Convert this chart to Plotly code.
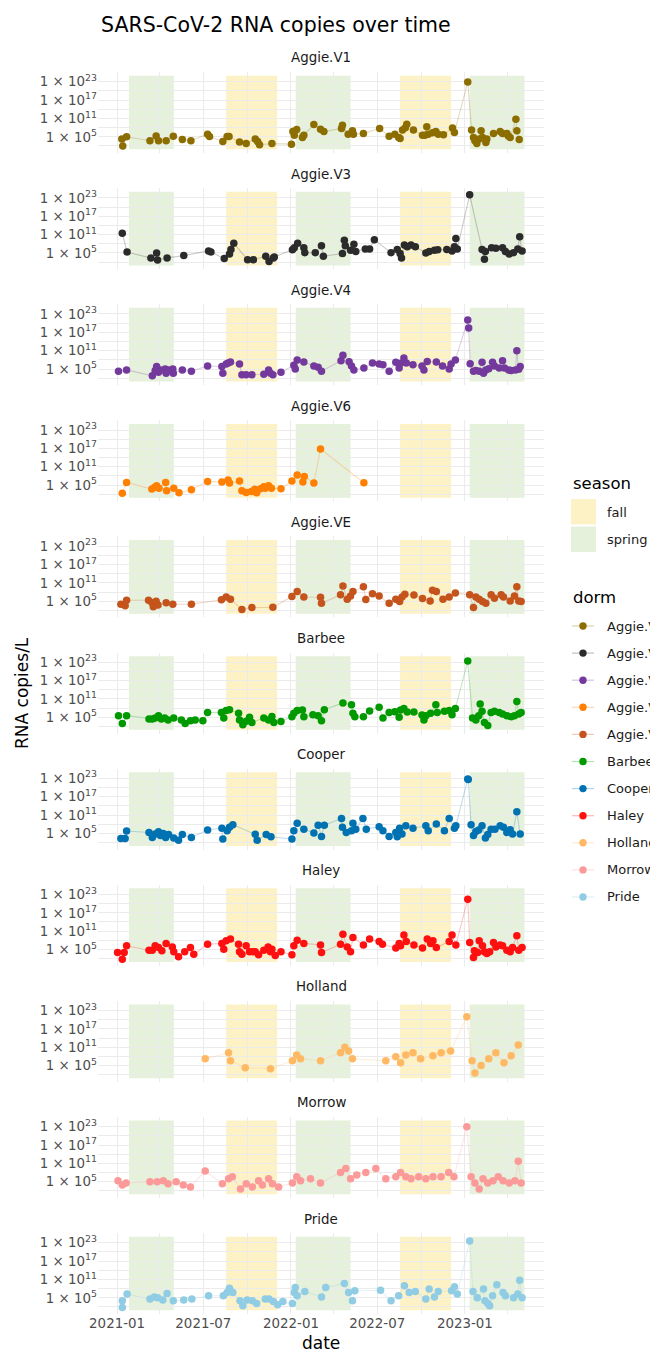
import pandas as pd
import plotly.graph_objects as go

# ---------------- data ----------------
BASE_DATE = "2021-01-01"   # sample day numbers below are days since this date

dorm_names = ["Aggie.V1", "Aggie.V3", "Aggie.V4", "Aggie.V6", "Aggie.VE", "Barbee",
              "Cooper", "Haley", "Holland", "Morrow", "Pride"]
dorm_colors = ["#8c6d00", "#2b2b2b", "#74399c", "#ff7f00", "#c4541c", "#009a00",
               "#0072b2", "#ff1010", "#ffb964", "#fb9a99", "#90cce4"]

aggie_v1_day = [10, 12, 20, 69, 82, 87, 103, 118, 137, 155, 190, 194, 222, 231, 235, 257, 271, 290, 295, 299,
                325, 366, 369, 372, 377, 389, 392, 413, 427, 434, 471, 473, 485, 494, 496, 517, 551, 571, 583, 591,
                594, 599, 605, 608, 622, 641, 646, 650, 653, 662, 669, 674, 685, 704, 708, 736, 744, 748, 751, 755,
                760, 764, 767, 774, 776, 790, 804, 809, 818, 821, 825, 837, 839, 844]
aggie_v1_val = [2e4, 1e2, 1e5, 5e3, 2e5, 5e3, 5e3, 1.6e5, 1.3e4, 5e3, 7e5, 1.2e5, 3e3, 1.2e5, 1.2e5, 2e3, 6e2, 2e4, 3e3, 2.5e2,
                6e2, 4e2, 5e6, 3.5e5, 2.5e7, 6e4, 3.5e5, 1e9, 3e7, 5e6, 5e7, 6e8, 7e5, 1e7, 7e5, 1.3e6, 5e7, 1.6e5, 7e5, 6e4,
                3e4, 1.6e7, 1e8, 1.4e9, 1.6e7, 3.5e5, 3.5e5, 2e8, 7e5, 2e6, 5e6, 7e5, 4.5e5, 7e7, 2.5e6, 8e22, 1.6e7, 6e4, 5e3, 6e2,
                2e4, 1e7, 6e4, 1.4e3, 2e4, 1.3e6, 5e6, 1.3e6, 1.3e6, 2e5, 6e4, 6e10, 1e7, 1.3e4]

aggie_v3_day = [11, 21, 71, 83, 85, 105, 140, 192, 197, 225, 236, 239, 245, 274, 286, 312, 319, 328, 330, 368,
                372, 379, 392, 394, 416, 429, 433, 473, 477, 479, 490, 497, 501, 521, 530, 540, 575, 588, 594, 597,
                603, 609, 617, 626, 648, 655, 666, 673, 692, 703, 708, 711, 714, 740, 766, 771, 773, 786, 795, 809,
                815, 823, 832, 841, 845, 850]
aggie_v3_val = [2.5e11, 2e5, 2e3, 1e5, 5e2, 2.3e3, 1.3e4, 4.5e5, 2e5, 1.4e3, 4e4, 1.3e6, 1.4e8, 6e2, 6e2, 8e3, 1.5e2, 2e3, 5e3, 1e6,
                5e6, 1.4e8, 5e6, 1.2e5, 1.2e5, 2e7, 8e3, 6e4, 1.4e9, 2e7, 7e5, 7e7, 3e5, 2e6, 2e6, 2e9, 1.2e5, 1.3e6, 6e4, 2e3,
                4e7, 1e7, 4e7, 1e7, 1e5, 3e5, 7e5, 1e6, 1.3e6, 4.5e5, 1e7, 5e9, 2e6, 1e24, 1.3e6, 8e2, 3e5, 5e6, 3.5e6, 5e6,
                3e5, 4e4, 1.2e5, 2e6, 2e10, 4.5e5]

aggie_v4_day = [3, 20, 74, 80, 83, 87, 91, 101, 103, 108, 117, 118, 137, 156, 190, 220, 222, 229, 233, 238,
                257, 262, 271, 283, 308, 318, 322, 327, 344, 371, 374, 378, 392, 413, 422, 429, 470, 474, 487, 492,
                497, 518, 536, 550, 558, 571, 585, 592, 595, 602, 607, 621, 640, 644, 651, 670, 683, 697, 701, 710,
                736, 738, 741, 748, 753, 760, 766, 769, 774, 780, 788, 792, 802, 809, 813, 822, 827, 836, 839, 843,
                846]
aggie_v4_val = [2e4, 5e4, 6e2, 3e4, 6e5, 8e3, 5e4, 1e5, 4e3, 5e4, 1e5, 4e3, 5e4, 2e4, 1e6, 7e5, 4e3, 4e6, 1e7, 2e7,
                4e6, 1.4e3, 1.4e3, 1.4e3, 2e3, 5e4, 4e3, 1.4e3, 8e3, 1.6e6, 1e5, 9e7, 2e7, 1e6, 3.5e5, 2e4, 5e7, 3e9, 2.5e7, 1e6,
                5e4, 2e5, 1e7, 4e6, 2.5e6, 2e4, 1.6e7, 2e5, 7e6, 4e8, 1e7, 2.5e6, 1e6, 5e4, 3e7, 2e7, 1e6, 1e5, 4e6, 9e7,
                1e21, 2.5e18, 5e6, 2e4, 3e4, 2e4, 1.6e7, 4e3, 5e4, 1.3e5, 1.6e7, 1e6, 2e5, 5e7, 2e5, 5e4, 3e4, 5e4, 1e11, 8e4,
                7e5]

aggie_v6_day = [11, 20, 73, 79, 83, 88, 102, 104, 119, 130, 156, 190, 220, 233, 236, 257, 262, 271, 282, 289,
                293, 301, 308, 311, 318, 324, 344, 367, 378, 390, 393, 413, 427, 518]
aggie_v6_val = [2e2, 7e5, 5e3, 2e4, 6e4, 1e4, 7e5, 1.4e3, 1e4, 3e2, 3e3, 1.6e6, 1e6, 5e6, 4.5e5, 2e6, 1.4e3, 4e2, 8e2, 4e3,
                3e2, 6e3, 3e4, 1e4, 6e4, 1e4, 6e3, 2e6, 2e8, 1e6, 7e7, 4.5e5, 6e16, 6e5]

aggie_ve_day = [8, 17, 20, 66, 73, 76, 82, 86, 103, 117, 156, 219, 229, 238, 262, 283, 327, 367, 378, 392,
                427, 429, 469, 474, 483, 490, 495, 517, 522, 536, 550, 571, 585, 593, 598, 604, 623, 641, 657, 662,
                670, 684, 697, 710, 740, 748, 753, 760, 767, 774, 785, 792, 806, 811, 825, 834, 839, 843, 848]
aggie_ve_val = [1e4, 3e3, 2e5, 2e5, 4e4, 1.4e3, 1e5, 6e3, 3e4, 1e4, 1e4, 3e5, 2.5e6, 4.5e5, 2e2, 8e2, 1e3, 3.4e6, 1.4e8, 2.5e6,
                2e6, 2e4, 1.2e7, 1e10, 4.5e5, 5e6, 1.4e8, 5e9, 3.5e5, 3e7, 5e6, 2e4, 4.5e5, 8e4, 2.5e6, 2e7, 1e7, 7e5, 1.2e5, 4e8,
                1.4e8, 4.5e5, 2.5e6, 5e7, 1.2e7, 8e2, 2.5e6, 4.5e5, 8e4, 2e4, 1.2e7, 1e6, 1.2e7, 2.5e6, 1.2e5, 5e6, 5e9, 1.2e5, 8e4]

barbee_day = [3, 11, 20, 67, 74, 80, 87, 93, 100, 107, 119, 135, 143, 154, 164, 180, 190, 219, 224, 229,
              236, 255, 257, 264, 271, 278, 283, 308, 318, 325, 329, 344, 367, 371, 378, 389, 392, 411, 422, 429,
              435, 474, 492, 495, 499, 517, 530, 550, 558, 571, 583, 592, 595, 602, 609, 623, 640, 644, 648, 658,
              669, 672, 687, 697, 703, 710, 736, 746, 753, 759, 762, 766, 771, 778, 785, 792, 802, 809, 818, 827,
              834, 839, 843, 848]
barbee_val = [3.5e5, 1e3, 3.5e5, 3e4, 3e4, 6e4, 3.5e5, 3e4, 6e4, 1.3e4, 6e4, 1.3e4, 1e3, 8e3, 1.3e4, 8e3, 3.4e6, 4e6, 6e4, 1.6e7,
              3e7, 2e6, 1.3e4, 4e2, 5e3, 1e5, 2e3, 6e4, 1.3e4, 2e5, 2e3, 4e3, 1.6e5, 2e6, 1.6e7, 2.5e7, 1.6e5, 7e5, 3.5e5, 8e3,
              3e7, 5e9, 1.4e9, 2e6, 1.6e5, 1.6e5, 1.2e7, 2e8, 6e4, 4e6, 7e6, 1e5, 2.5e7, 7e7, 5e6, 5e6, 6e5, 1.3e4, 3.5e5, 2e6,
              1.4e9, 4e6, 1e7, 1.6e7, 7e5, 7e7, 2.5e23, 6e4, 1.3e4, 3.5e5, 2.3e9, 1e7, 2e3, 2e2, 4e6, 1e7, 4e6, 1.2e6, 3.5e5, 1.6e5,
              3.5e5, 1.6e10, 1.2e6, 4e6]

cooper_day = [8, 17, 20, 67, 74, 80, 87, 91, 97, 102, 108, 119, 129, 137, 156, 190, 220, 222, 231, 236,
              243, 290, 294, 313, 323, 367, 371, 378, 392, 413, 422, 429, 435, 471, 473, 481, 492, 495, 501, 516,
              523, 550, 558, 571, 585, 588, 593, 598, 606, 621, 648, 653, 670, 687, 697, 708, 711, 736, 737, 743,
              748, 753, 759, 766, 773, 778, 785, 793, 804, 811, 818, 825, 830, 839, 846]
cooper_val = [2e3, 2e3, 6e5, 2e5, 5e3, 6e4, 3.5e5, 2e4, 1e5, 5e3, 4e4, 3e3, 6e2, 4e4, 5e3, 1.3e6, 5e6, 1.4e3, 8e5, 1e7,
              7e7, 5e4, 6e2, 4e4, 8e3, 1.4e3, 8e5, 2e8, 2.5e6, 1.3e5, 5e7, 1e4, 5e7, 8e9, 1e7, 2e5, 8e5, 2e8, 2.5e6, 8e9,
              2.5e6, 1.6e7, 8e5, 1e4, 2e5, 8e3, 5e6, 6e4, 3e7, 5e6, 3e7, 8e5, 1.1e8, 8e5, 8e9, 5e6, 3e7, 6e22, 4e22, 7e7,
              2e4, 4e5, 1.3e6, 3e7, 3e3, 4e4, 2.5e6, 2.5e6, 3e7, 1e7, 2e5, 1.6e6, 6e4, 1.3e12, 6e4]

haley_day = [1, 11, 15, 20, 67, 74, 80, 87, 94, 103, 116, 119, 129, 142, 154, 161, 190, 220, 224, 229,
             238, 255, 257, 262, 271, 278, 285, 290, 297, 308, 317, 322, 325, 332, 344, 367, 371, 378, 392, 427,
             429, 469, 474, 483, 490, 495, 517, 530, 550, 557, 585, 592, 595, 602, 607, 623, 641, 651, 658, 663,
             670, 697, 703, 711, 736, 740, 748, 750, 757, 760, 767, 771, 776, 782, 790, 795, 804, 809, 818, 825,
             830, 839, 843, 850]
haley_val = [1e4, 7e1, 1e4, 1.6e6, 6e4, 6e4, 1.6e6, 4.5e5, 4e4, 1e7, 7e5, 2e4, 4e2, 2e4, 4.5e5, 3e3, 5e6, 1e7, 1.3e5, 7e7,
             2.5e8, 5e6, 2e4, 3e3, 1.6e6, 2e4, 2e4, 2e4, 2e3, 6e4, 7e5, 2e4, 1.3e5, 1e3, 2e4, 2e3, 1.6e6, 1e8, 1e7, 3e6,
             1e4, 5e6, 1e10, 7e5, 2e4, 8e8, 3e6, 2.5e8, 4e7, 5e6, 3e5, 1e7, 1.6e6, 6e9, 4e7, 3e6, 3e5, 2.5e8, 1e7, 7e7,
             4.5e5, 4e7, 6e9, 3e6, 3e21, 2e7, 2.5e2, 4e4, 1e4, 7e7, 1.6e6, 2e4, 5e3, 2e4, 2e7, 7e5, 3e6, 1.6e6, 6e4, 2e4,
             4.5e5, 3e9, 6e4, 4.5e5]

holland_day = [185, 234, 238, 269, 322, 368, 377, 385, 427, 469, 478, 486, 494, 564, 585, 595, 606, 621, 637, 663,
               680, 700, 734, 745, 751, 764, 780, 795, 812, 827, 842]
holland_val = [1.6e7, 1.6e9, 4e6, 2e4, 1e4, 4e6, 3e8, 1.6e7, 4e6, 1.6e9, 1e11, 6e9, 1.6e7, 4e6, 8e7, 8e5, 3e8, 1.6e9, 1.6e7, 1.6e8,
               1.6e9, 6e9, 1e21, 4e6, 4e2, 1e5, 1.6e7, 1.6e9, 8e5, 1.6e8, 6e11]

morrow_day = [2, 11, 19, 69, 84, 97, 107, 124, 139, 154, 185, 221, 234, 242, 259, 271, 284, 297, 305, 318,
              326, 339, 368, 377, 385, 406, 427, 469, 480, 490, 503, 522, 543, 564, 585, 595, 606, 617, 633, 648,
              663, 680, 696, 707, 734, 743, 751, 760, 768, 778, 789, 800, 810, 823, 835, 842, 848]
morrow_val = [2e5, 8e3, 4e4, 1e5, 1e5, 2e5, 2e4, 1e5, 8e3, 2e3, 3e8, 2e4, 1e6, 4e6, 4e2, 2e4, 2e3, 2e5, 8e3, 1e6,
              2e4, 2e3, 4e4, 4e6, 2e5, 1e6, 4e4, 1e8, 2e9, 1e6, 1.6e7, 1e8, 2e9, 1e6, 4e6, 1e8, 4e6, 1e6, 4e6, 1e6,
              4e6, 4e6, 1e8, 4e6, 1e23, 4e6, 4e4, 4e2, 1e6, 4e4, 2e5, 4e6, 2e5, 4e4, 2e5, 5e11, 4e4]

pride_day = [11, 11, 21, 69, 78, 85, 96, 105, 118, 140, 157, 192, 223, 231, 236, 243, 258, 264, 273, 284,
             293, 311, 319, 328, 337, 348, 368, 372, 374, 378, 394, 429, 438, 477, 486, 494, 499, 553, 575, 591,
             603, 613, 626, 648, 655, 666, 674, 702, 708, 714, 740, 747, 756, 769, 772, 778, 782, 788, 797, 810,
             815, 832, 841, 845, 850]
pride_val = [1e4, 7e1, 1.6e6, 4e4, 2e5, 1e5, 2e4, 2.5e6, 1e4, 2e4, 4e4, 4.5e5, 4.5e5, 5e6, 1.4e8, 5e6, 1e4, 2.5e2, 2e4, 1e4,
             1.4e3, 4e4, 4e4, 6e3, 5e2, 6e3, 1.4e3, 5e6, 2.5e8, 4.5e5, 1.2e7, 2e5, 2.5e8, 5e9, 5e6, 1e4, 2e7, 3e7, 1e4, 4.5e5,
             8e8, 5e6, 1.2e7, 4e4, 7e7, 2e5, 1.2e7, 2e7, 4e8, 1.6e6, 4e23, 1.2e7, 1e5, 7e7, 1e4, 1.4e3, 2.5e2, 4.5e5, 2e9, 5e6,
             4.5e5, 1e5, 1.6e6, 6e10, 1e5]

season_labels = ["spring", "fall", "spring", "fall", "spring"]
season_start = ["2021-01-26", "2021-08-18", "2022-01-11", "2022-08-18", "2023-01-11"]
season_end = ["2021-04-30", "2021-12-03", "2022-05-06", "2022-12-03", "2023-05-06"]
season_legend = ["fall", "spring"]
season_fill = {"fall": "#fcf2c6", "spring": "#e5f1da"}

x_tick_vals = ["2021-01-01", "2021-07-01", "2022-01-01", "2022-07-01", "2023-01-01"]
x_tick_text = ["2021-01", "2021-07", "2022-01", "2022-07", "2023-01"]
x_minor_vals = ["2021-04-01", "2021-10-01", "2022-04-01", "2022-10-01", "2023-04-01"]
y_tick_vals = [1e5, 1e11, 1e17, 1e23]
y_tick_text = ["1 × 10<sup>5</sup>", "1 × 10<sup>11</sup>", "1 × 10<sup>17</sup>", "1 × 10<sup>23</sup>"]
y_minor_vals = [1e2, 1e8, 1e14, 1e20, 1e26]

panel_days = [aggie_v1_day, aggie_v3_day, aggie_v4_day, aggie_v6_day, aggie_ve_day, barbee_day,
              cooper_day, haley_day, holland_day, morrow_day, pride_day]
panel_vals = [aggie_v1_val, aggie_v3_val, aggie_v4_val, aggie_v6_val, aggie_ve_val, barbee_val,
              cooper_val, haley_val, holland_val, morrow_val, pride_val]

# ---------------- layout geometry (pixels) ----------------
W, H = 650, 1353
ML, MR, MT = 98, 106, 72
STEP, PANEL_H = 116.1, 81
N = len(dorm_names)
MB = H - (MT + STEP * (N - 1) + PANEL_H)
PW, PH = W - ML - MR, H - MT - MB
FONT = "DejaVu Sans"
GRID = "#ebebeb"


def px_x(p):
    return (p - ML) / PW


def px_y(p):
    return 1 - (p - MT) / PH


def rgba(hex_color, a):
    h = hex_color.lstrip("#")
    r, g, b = int(h[0:2], 16), int(h[2:4], 16), int(h[4:6], 16)
    return f"rgba({r},{g},{b},{a})"


base = pd.Timestamp(BASE_DATE)
fig = go.Figure()
layout = dict(
    width=W, height=H, margin=dict(l=ML, r=MR, t=MT, b=MB, pad=0),
    paper_bgcolor="white", plot_bgcolor="white", showlegend=False,
    font=dict(family=FONT, color="#1a1a1a"),
)
shapes, annotations = [], []

for i in range(N):
    k = "" if i == 0 else str(i + 1)
    top = MT + STEP * i
    dates = [base + pd.Timedelta(days=d) for d in panel_days[i]]
    fig.add_trace(go.Scatter(x=dates, y=panel_vals[i], mode="lines",
                             line=dict(color=rgba(dorm_colors[i], 0.24), width=1.1),
                             xaxis="x" + k, yaxis="y" + k, hoverinfo="skip"))
    fig.add_trace(go.Scatter(x=dates, y=panel_vals[i], mode="markers", name=dorm_names[i],
                             marker=dict(color=dorm_colors[i], size=7.5, line=dict(width=0)),
                             xaxis="x" + k, yaxis="y" + k))
    xa = dict(
        domain=[0, 1], anchor="y" + k, type="date", range=["2020-11-22", "2023-06-16"],
        tickvals=x_tick_vals, ticktext=x_tick_text, showticklabels=(i == N - 1),
        tickfont=dict(size=13.4, color="#4d4d4d", family=FONT), ticks="",
        showgrid=True, gridcolor=GRID, gridwidth=1.2, zeroline=False, showline=False,
        minor=dict(tickvals=x_minor_vals, showgrid=True, gridcolor=GRID, gridwidth=0.6),
    )
    if i > 0:
        xa["matches"] = "x"
    layout["xaxis" + k] = xa
    layout["yaxis" + k] = dict(
        domain=[px_y(top + PANEL_H), px_y(top)], anchor="x" + k, type="log", range=[-0.3, 26.2],
        tickvals=y_tick_vals, ticktext=y_tick_text, ticks="",
        tickfont=dict(size=13.4, color="#4d4d4d", family=FONT),
        showgrid=True, gridcolor=GRID, gridwidth=1.2, zeroline=False, showline=False,
        minor=dict(tickvals=y_minor_vals, showgrid=True, gridcolor=GRID, gridwidth=0.6),
    )
    for lab, s0, s1 in zip(season_labels, season_start, season_end):
        shapes.append(dict(type="rect", xref="x" + k, yref=f"y{k} domain", x0=s0, x1=s1,
                           y0=0.045, y1=0.955, fillcolor=season_fill[lab], line=dict(width=0),
                           layer="below"))
    annotations.append(dict(text=dorm_names[i], xref="paper", yref="paper", x=0.5, y=px_y(top - 14),
                            showarrow=False, xanchor="center", yanchor="middle",
                            font=dict(size=13.4, color="#1a1a1a", family=FONT)))

# titles
annotations.append(dict(text="SARS-CoV-2 RNA copies over time", xref="paper", yref="paper",
                        x=px_x(99), y=px_y(25), xanchor="left", yanchor="middle", showarrow=False,
                        font=dict(size=20.5, color="black", family=FONT)))
annotations.append(dict(text="RNA copies/L", xref="paper", yref="paper", x=px_x(22),
                        y=px_y((MT + H - MB) / 2), textangle=-90, xanchor="center", yanchor="middle",
                        showarrow=False, font=dict(size=17, color="black", family=FONT)))
annotations.append(dict(text="date", xref="paper", yref="paper", x=0.5, y=px_y(1343),
                        xanchor="center", yanchor="middle", showarrow=False,
                        font=dict(size=17, color="black", family=FONT)))

# legend: season
LX = 571
annotations.append(dict(text="season", xref="paper", yref="paper", x=px_x(LX), y=px_y(483),
                        xanchor="left", yanchor="middle", showarrow=False,
                        font=dict(size=16.5, color="black", family=FONT)))
for j, lab in enumerate(season_legend):
    y0 = 499 + 27.5 * j
    shapes.append(dict(type="rect", xref="paper", yref="paper", x0=px_x(LX), x1=px_x(LX + 25),
                       y0=px_y(y0 + 25.5), y1=px_y(y0), fillcolor=season_fill[lab], line=dict(width=0)))
    annotations.append(dict(text=lab, xref="paper", yref="paper", x=px_x(605), y=px_y(y0 + 13),
                            xanchor="left", yanchor="middle", showarrow=False,
                            font=dict(size=13, color="#1a1a1a", family=FONT)))
# legend: dorm
annotations.append(dict(text="dorm", xref="paper", yref="paper", x=px_x(LX), y=px_y(597),
                        xanchor="left", yanchor="middle", showarrow=False,
                        font=dict(size=16.5, color="black", family=FONT)))
for j, (nm, col) in enumerate(zip(dorm_names, dorm_colors)):
    yc = 626 + 27.1 * j
    shapes.append(dict(type="line", xref="paper", yref="paper", x0=px_x(572), x1=px_x(594),
                       y0=px_y(yc), y1=px_y(yc), line=dict(color=rgba(col, 0.3), width=1.2)))
    shapes.append(dict(type="circle", xref="paper", yref="paper", x0=px_x(583 - 3.7), x1=px_x(583 + 3.7),
                       y0=px_y(yc + 3.7), y1=px_y(yc - 3.7), fillcolor=col, line=dict(width=0)))
    annotations.append(dict(text=nm, xref="paper", yref="paper", x=px_x(605), y=px_y(yc),
                            xanchor="left", yanchor="middle", showarrow=False,
                            font=dict(size=13, color="#1a1a1a", family=FONT)))

layout["shapes"] = shapes
layout["annotations"] = annotations
fig.update_layout(**layout)
fig.write_html("out.html")
